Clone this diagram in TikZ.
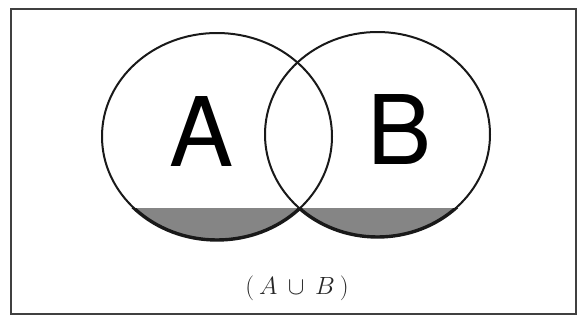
\documentclass[tikz,border=0pt]{standalone}
\usepackage{fontspec}
\newfontfamily\heros{TeX Gyre Heros}
\tikzset{
  frameline/.style={draw=black!75, line width=1.6pt},
  setline/.style={draw=black!90, line width=2pt},
  bottomline/.style={draw=black!90, line width=3.4pt},
  shadefill/.style={fill=black!48},
  biglabel/.style={font=\heros\fontsize{96}{96}\selectfont, inner sep=0pt},
  caption/.style={font=\fontsize{23}{23}\selectfont, inner sep=0pt, text=black!85}
}
\begin{document}
\begin{tikzpicture}[x=1pt,y=-1pt]
\useasboundingbox (0,0) rectangle (579,327);
\draw[frameline] (11,9) rectangle (576,314);
\coordinate (ca) at (217,136.5);
\coordinate (cb) at (377.5,134.5);
\begin{scope}
  \clip (0,208) rectangle (579,327);
  \fill[shadefill] (ca) ellipse [x radius=115, y radius=103.5];
  \fill[shadefill] (cb) ellipse [x radius=112.5, y radius=102.5];
  \draw[bottomline] (ca) ellipse [x radius=115, y radius=103.5];
  \draw[bottomline] (cb) ellipse [x radius=112.5, y radius=102.5];
\end{scope}
\draw[setline] (ca) ellipse [x radius=115, y radius=103.5];
\draw[setline] (cb) ellipse [x radius=112.5, y radius=102.5];
\node[biglabel] (A) at (202,132) {A};
\node[biglabel] (B) at (400,130) {B};
\node[caption] (lbl) at (297,288) {$(\hspace{5pt}A\hspace{5pt}\cup\hspace{5pt}B\hspace{5pt})$};
\end{tikzpicture}
\end{document}
